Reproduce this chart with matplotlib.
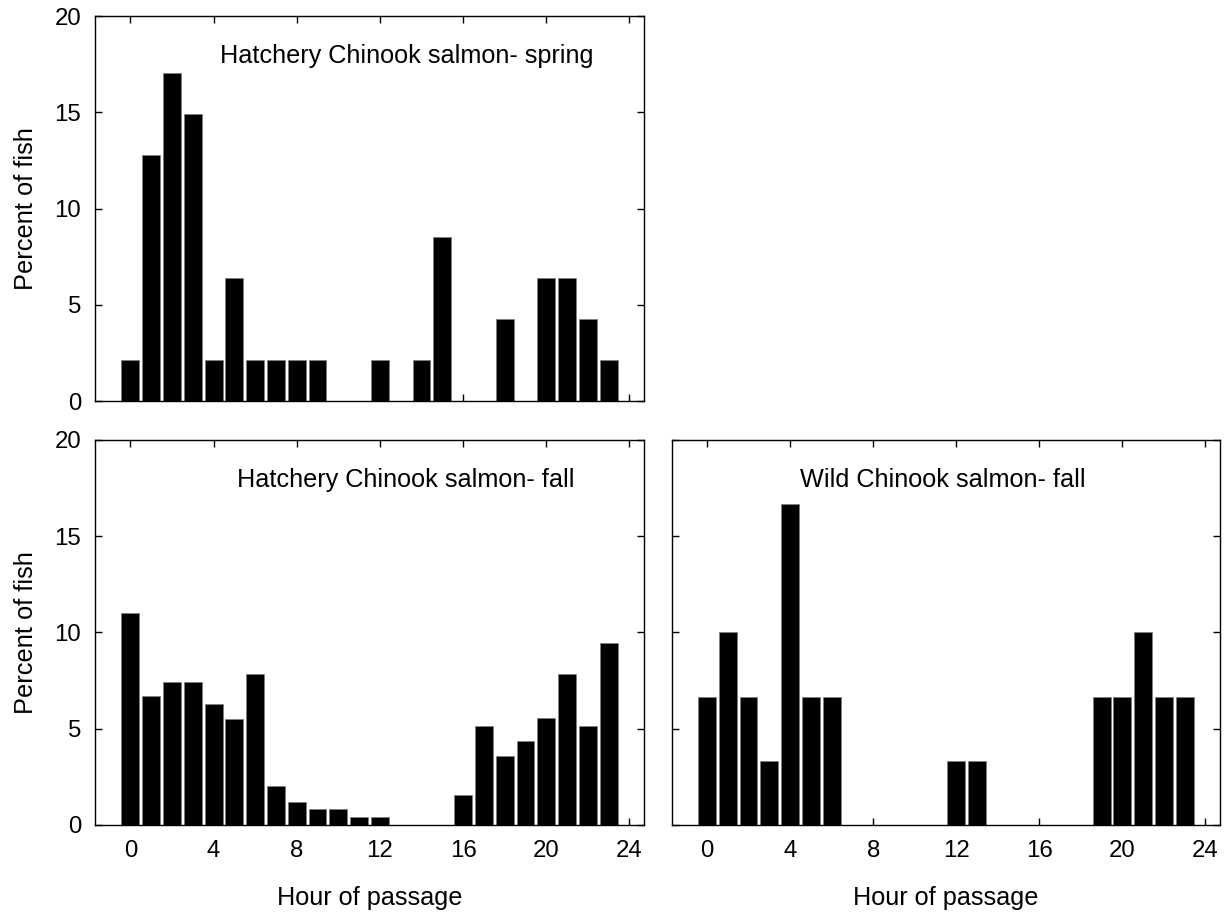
import numpy as np
import matplotlib
matplotlib.use('Agg')
import matplotlib.pyplot as plt

plt.rcParams['font.family'] = ['Liberation Sans', 'DejaVu Sans']

# percent of fish passing in each hour (0-23)
hours = np.arange(24)
hatchery_spring = [2.13, 12.77, 17.02, 14.89, 2.13, 6.38, 2.13, 2.13, 2.13, 2.13, 0, 0,
                   2.13, 0, 2.13, 8.51, 0, 0, 4.26, 0, 6.38, 6.38, 4.26, 2.13]
hatchery_fall = [11.02, 6.70, 7.45, 7.45, 6.27, 5.52, 7.86, 2.0, 1.21, 0.81, 0.81, 0.40,
                 0.40, 0, 0, 0, 1.56, 5.12, 3.56, 4.35, 5.54, 7.86, 5.12, 9.43]
wild_fall = [6.67, 10.0, 6.67, 3.33, 16.67, 6.67, 6.67, 0, 0, 0, 0, 0,
             3.33, 3.33, 0, 0, 0, 0, 0, 6.67, 6.67, 10.0, 6.67, 6.67]

titles = ['Hatchery Chinook salmon- spring', 'Hatchery Chinook salmon- fall',
          'Wild Chinook salmon- fall']
xticks = [0, 4, 8, 12, 16, 20, 24]
yticks = [0, 5, 10, 15, 20]

fig = plt.figure(figsize=(12.28, 9.15), dpi=100)
W, H = 0.447, 0.4208
ax1 = fig.add_axes([0.0774, 0.5617, W, H])
ax2 = fig.add_axes([0.0774, 0.0984, W, H])
ax3 = fig.add_axes([0.547, 0.0984, 0.4465, H])

panels = [(ax1, hatchery_spring, titles[0], 0.228),
          (ax2, hatchery_fall, titles[1], 0.259),
          (ax3, wild_fall, titles[2], 0.234)]

for ax, vals, title, tx in panels:
    ax.bar(hours, vals, width=0.86, color='black', edgecolor='#808080', linewidth=0.6)
    ax.set_xlim(-1.7, 24.7)
    ax.set_ylim(0, 20)
    ax.set_xticks(xticks)
    ax.set_yticks(yticks)
    ax.tick_params(direction='in', top=True, right=True, length=5, width=1,
                   labelsize=17.3, pad=10)
    ax.tick_params(axis='x', pad=11)
    for s in ax.spines.values():
        s.set_linewidth(1)
    ax.text(tx, 0.897, title, transform=ax.transAxes, ha='left', va='center', fontsize=18.2)

ax1.set_xticklabels([])
ax3.set_yticklabels([])
ax1.set_ylabel('Percent of fish', fontsize=18.3, labelpad=12)
ax2.set_ylabel('Percent of fish', fontsize=18.3, labelpad=12)
ax2.set_xlabel('Hour of passage', fontsize=18.2, labelpad=17)
ax3.set_xlabel('Hour of passage', fontsize=18.2, labelpad=17)

fig.savefig('out.png', dpi=100)
